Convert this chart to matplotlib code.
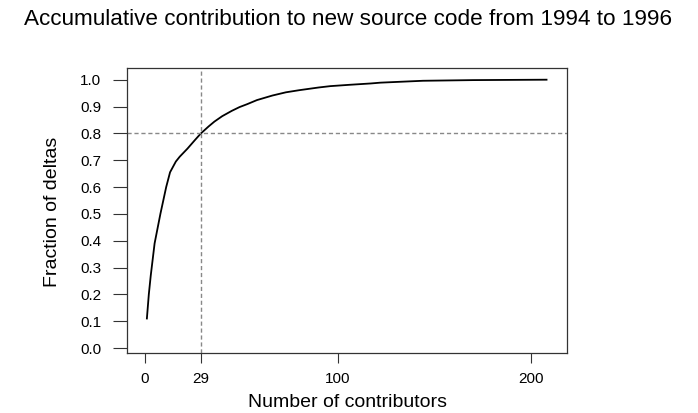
import numpy as np
import matplotlib.pyplot as plt

plt.rcParams['font.family'] = ['Liberation Sans', 'DejaVu Sans']

# values
contributors = [1, 2, 3, 5, 8, 11, 13, 16, 18, 20, 22, 26, 29, 33, 36, 40, 45, 49,
                53, 58, 66, 73, 80, 90, 96, 106, 117, 122, 144, 170, 208]
fraction = [0.11, 0.20, 0.27, 0.39, 0.50, 0.60, 0.655, 0.695, 0.713, 0.728, 0.743,
            0.776, 0.80, 0.826, 0.844, 0.864, 0.884, 0.898, 0.909, 0.924, 0.941,
            0.953, 0.961, 0.971, 0.976, 0.981, 0.986, 0.989, 0.996, 0.9985, 1.0]
cut_x = 29
cut_y = 0.8
xticks = [0, 29, 100, 200]
yticks = np.round(np.arange(0, 1.01, 0.1), 1)

W, H = 698, 413
fig = plt.figure(figsize=(W / 100, H / 100), dpi=100)
ax = fig.add_axes([127 / W, 1 - 353 / H, (567 - 127) / W, (353 - 68) / H])

ax.plot(contributors, fraction, '-', color='black', lw=1.3)
ax.axvline(cut_x, color='#888888', ls=(0, (3, 2)), lw=1)
ax.axhline(cut_y, color='#888888', ls=(0, (3, 2)), lw=1)

ax.set_xlim(-9.3, 218.6)
ax.set_ylim(-0.0186, 1.0436)
ax.set_xticks(xticks)
ax.set_yticks(yticks)
ax.set_yticklabels(['%.1f' % v for v in yticks])
ax.tick_params(direction='out', width=0.8, labelsize=11, colors='#333333',
               labelcolor='black')
ax.tick_params(axis='x', length=7.2, pad=6.5)
ax.tick_params(axis='y', length=10, pad=8.6)
for s in ax.spines.values():
    s.set_color('#333333')
    s.set_linewidth(0.9)

fig.text(347 / W, 1 - 407 / H, 'Number of contributors', fontsize=14,
         ha='center', va='baseline')
fig.text(53 / W, 1 - 212 / H, 'Fraction of deltas', fontsize=14, rotation=90,
         ha='center', va='center')
fig.text(348.5 / W, 1 - 25 / H,
         'Accumulative contribution to new source code from 1994 to 1996',
         fontsize=16.2, ha='center', va='baseline')

fig.savefig('out.png', dpi=100)
